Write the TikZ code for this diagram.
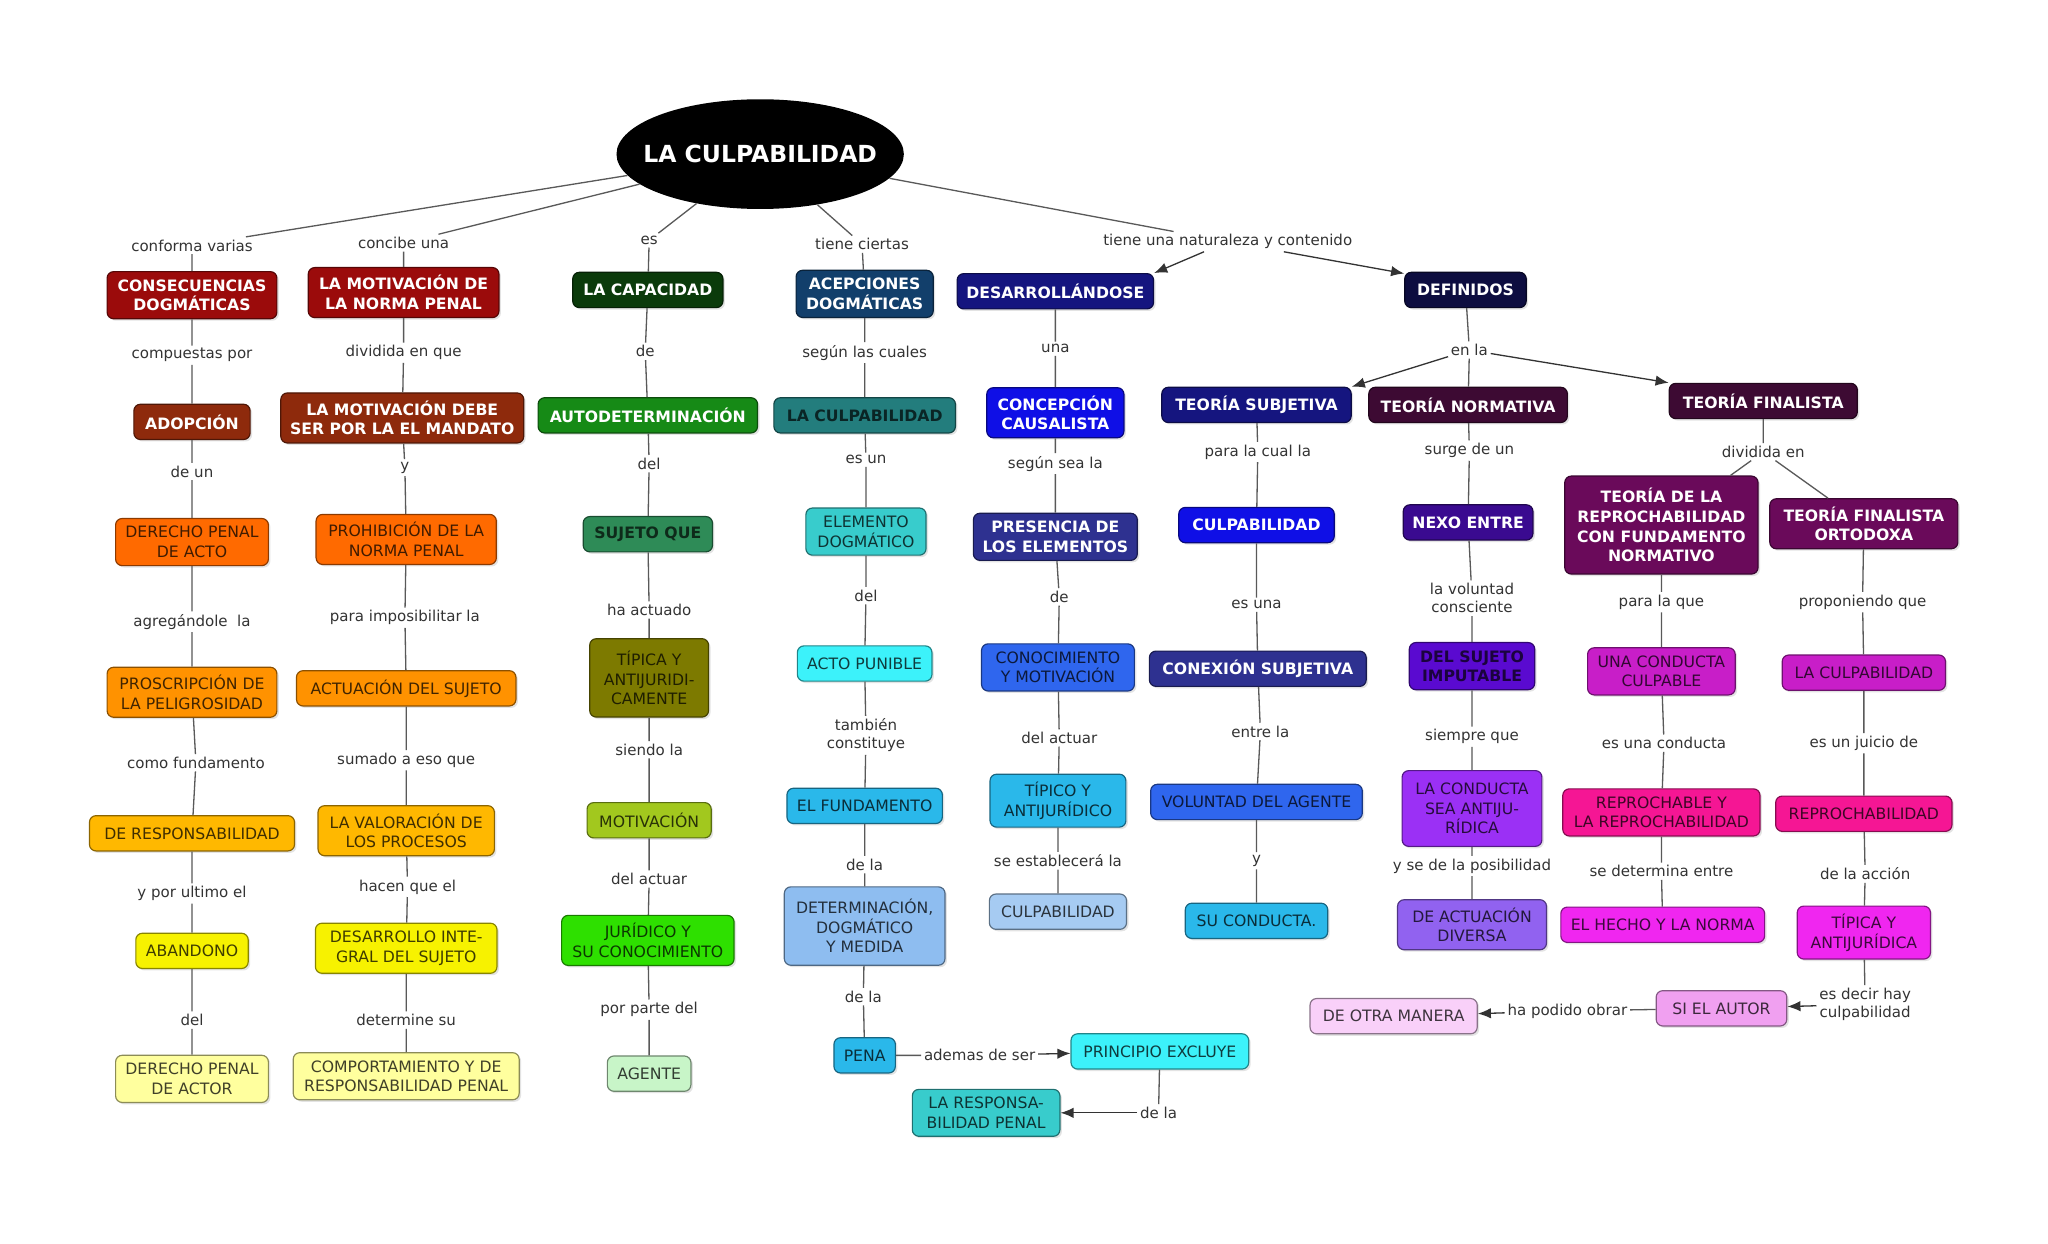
\documentclass[tikz,border=0pt]{standalone}
\usepackage{fontspec}
\setmainfont{DejaVu Sans}
\usetikzlibrary{shapes.geometric,shadows,arrows.meta}

\definecolor{rojoosc}{HTML}{9B0B0B}
\definecolor{marron}{HTML}{8E2A0C}
\definecolor{naranja}{HTML}{FF6A00}
\definecolor{naranjaclaro}{HTML}{FF9200}
\definecolor{ambar}{HTML}{FFB800}
\definecolor{amarillo}{HTML}{F7F200}
\definecolor{amarilloclaro}{HTML}{FFFF9E}
\definecolor{verdeosc}{HTML}{0B3B0B}
\definecolor{verde}{HTML}{168A16}
\definecolor{verdemar}{HTML}{2E8B57}
\definecolor{oliva}{HTML}{7D7A00}
\definecolor{verdeamarillo}{HTML}{A2C81E}
\definecolor{verdevivo}{HTML}{2EE000}
\definecolor{verdeclaro}{HTML}{C8F5C8}
\definecolor{azulpetroleo}{HTML}{123F6B}
\definecolor{turquesaosc}{HTML}{237D7D}
\definecolor{turquesa}{HTML}{38CCCC}
\definecolor{cian}{HTML}{3CF2FA}
\definecolor{celeste}{HTML}{2AB8EA}
\definecolor{azulclaro}{HTML}{8EBDF0}
\definecolor{marino}{HTML}{15157F}
\definecolor{azul}{HTML}{0F0FE6}
\definecolor{pizarra}{HTML}{2E3190}
\definecolor{azulreal}{HTML}{2F66EE}
\definecolor{azulpalido}{HTML}{A6CBF2}
\definecolor{noche}{HTML}{0D0D40}
\definecolor{ciruela}{HTML}{3D0A33}
\definecolor{anil}{HTML}{3A0A90}
\definecolor{morado}{HTML}{5A0AD0}
\definecolor{violeta}{HTML}{9B30F5}
\definecolor{lila}{HTML}{9162F0}
\definecolor{vino}{HTML}{6A0A5A}
\definecolor{fucsiaosc}{HTML}{C81EC8}
\definecolor{rosa}{HTML}{F51694}
\definecolor{fucsia}{HTML}{F026F0}
\definecolor{orquidea}{HTML}{F0A0F0}
\definecolor{rosapalido}{HTML}{F9D0F9}

\newcommand\rootfont{\fontsize{18}{22}\selectfont\bfseries}
\newcommand\cabfont{\fontsize{12}{15}\selectfont\bfseries}
\newcommand\hojafont{\fontsize{12}{15}\selectfont}
\newcommand\enlfont{\fontsize{11.5}{14}\selectfont}

\begin{document}
\begin{tikzpicture}[x=1pt, y=-1pt,
    concept/.style={rounded corners=5pt, draw=#1!55!black, fill=#1, line width=0.9pt,
        align=center, inner xsep=7pt, inner ysep=6pt, minimum height=27pt,
        drop shadow={opacity=0.22, shadow xshift=1.5pt, shadow yshift=-1.5pt}},
    cabeza/.style={concept=#1, text=white, font=\cabfont},
    cabosc/.style={concept=#1, text=#1!30!black, font=\cabfont},
    hoja/.style={concept=#1, text=#1!25!black, font=\hojafont},
    enlace/.style={font=\enlfont, text=black!80, inner sep=2pt, align=center},
    conn/.style={draw=black!65, line width=1pt},
    arr/.style={draw=black!80, line width=1pt, -{Latex[length=10pt,width=8pt]}}]

    \fill[white] (0,0) rectangle (1568,952);
    \useasboundingbox (0,0) rectangle (1568,952);

    % Draw nodes
    \node[ellipse, fill=black, text=white, font=\rootfont, minimum width=220, minimum height=84] (root) at (582,118) {\makebox[0pt]{LA CULPABILIDAD}};

    \node[cabeza=rojoosc, minimum width=130] (consec) at (147,226) {CONSECUENCIAS\\DOGMÁTICAS};
    \node[cabeza=marron, minimum width=89] (adopc) at (147,323) {ADOPCIÓN};
    \node[hoja=naranja, minimum width=117] (dpacto) at (147,415) {DERECHO PENAL\\DE ACTO};
    \node[hoja=naranjaclaro, minimum width=130] (proscr) at (147,530) {PROSCRIPCIÓN DE\\LA PELIGROSIDAD};
    \node[hoja=ambar, minimum width=157] (respons) at (147,638) {DE RESPONSABILIDAD};
    \node[hoja=amarillo, minimum width=86] (aband) at (147,728) {ABANDONO};
    \node[hoja=amarilloclaro, minimum width=117] (dpactor) at (147,826) {DERECHO PENAL\\DE ACTOR};

    \node[cabeza=rojoosc, minimum width=146] (motiv) at (309,224) {LA MOTIVACIÓN DE\\LA NORMA PENAL};
    \node[cabeza=marron, minimum width=186] (debe) at (308,320) {LA MOTIVACIÓN DEBE\\SER POR LA EL MANDATO};
    \node[hoja=naranja, minimum width=138] (prohib) at (311,413) {PROHIBICIÓN DE LA\\NORMA PENAL};
    \node[hoja=naranjaclaro, minimum width=168] (actua) at (311,527) {ACTUACIÓN DEL SUJETO};
    \node[hoja=ambar, minimum width=135] (valor) at (311,636) {LA VALORACIÓN DE\\LOS PROCESOS};
    \node[hoja=amarillo, minimum width=139] (desint) at (311,726) {DESARROLLO INTE-\\GRAL DEL SUJETO};
    \node[hoja=amarilloclaro, minimum width=173] (comport) at (311,824) {COMPORTAMIENTO Y DE\\RESPONSABILIDAD PENAL};

    \node[cabeza=verdeosc, minimum width=115] (capac) at (496,222) {LA CAPACIDAD};
    \node[cabeza=verde, minimum width=168] (autod) at (496,318) {AUTODETERMINACIÓN};
    \node[cabosc=verdemar, minimum width=99] (sujque) at (496,409) {SUJETO QUE};
    \node[hoja=oliva, minimum width=91, minimum height=60] (tipica) at (497,519) {TÍPICA Y\\ANTIJURIDI-\\CAMENTE};
    \node[hoja=verdeamarillo, minimum width=95] (motivac) at (497,628) {MOTIVACIÓN};
    \node[hoja=verdevivo, minimum width=132] (juridico) at (496,720) {JURÍDICO Y\\SU CONOCIMIENTO};
    \node[hoja=verdeclaro, minimum width=64] (agente) at (497,822) {AGENTE};

    \node[cabeza=azulpetroleo, minimum width=105] (acep) at (662,225) {ACEPCIONES\\DOGMÁTICAS};
    \node[cabosc=turquesaosc, minimum width=139] (laculp) at (662,318) {LA CULPABILIDAD};
    \node[hoja=turquesa, minimum width=92] (elem) at (663,407) {ELEMENTO\\DOGMÁTICO};
    \node[hoja=cian, minimum width=103] (acto) at (662,508) {ACTO PUNIBLE};
    \node[hoja=celeste, minimum width=119] (fund) at (662,617) {EL FUNDAMENTO};
    \node[hoja=azulclaro, minimum width=123, minimum height=60] (determ) at (662,709) {DETERMINACIÓN,\\DOGMÁTICO\\Y MEDIDA};
    \node[hoja=celeste, minimum width=47] (pena) at (662,808) {PENA};
    \node[hoja=cian, minimum width=136] (princ) at (888,805) {PRINCIPIO EXCLUYE};
    \node[hoja=turquesa, minimum width=113] (respen) at (755,852) {LA RESPONSA-\\BILIDAD PENAL};

    \node[cabeza=marino, minimum width=149] (desarr) at (808,223) {DESARROLLÁNDOSE};
    \node[cabeza=azul, minimum width=105] (concep) at (808,316) {CONCEPCIÓN\\CAUSALISTA};
    \node[cabeza=pizarra, minimum width=125] (presen) at (808,411) {PRESENCIA DE\\LOS ELEMENTOS};
    \node[hoja=azulreal, minimum width=117] (conoc) at (810,511) {CONOCIMIENTO\\Y MOTIVACIÓN};
    \node[hoja=celeste, minimum width=104] (tipico) at (810,613) {TÍPICO Y\\ANTIJURÍDICO};
    \node[hoja=azulpalido, minimum width=105] (culpuno) at (810,698) {CULPABILIDAD};

    \node[cabeza=marino, minimum width=145] (tsubj) at (962,310) {TEORÍA SUBJETIVA};
    \node[cabeza=azul, minimum width=119] (culpdos) at (962,402) {CULPABILIDAD};
    \node[cabeza=pizarra, minimum width=166] (conex) at (963,512) {CONEXIÓN SUBJETIVA};
    \node[hoja=azulreal, minimum width=162] (volunt) at (962,614) {VOLUNTAD DEL AGENTE};
    \node[hoja=celeste, minimum width=109] (sucond) at (962,705) {SU CONDUCTA.};

    \node[cabeza=noche, minimum width=93] (defin) at (1122,222) {DEFINIDOS};
    \node[cabeza=ciruela, minimum width=152] (tnorm) at (1124,310) {TEORÍA NORMATIVA};
    \node[cabeza=anil, minimum width=98] (nexo) at (1124,400) {NEXO ENTRE};
    \node[cabosc=morado, minimum width=96] (imput) at (1127,510) {DEL SUJETO\\IMPUTABLE};
    \node[hoja=violeta, minimum width=107, minimum height=58] (antiju) at (1127,619) {LA CONDUCTA\\SEA ANTIJU-\\RÍDICA};
    \node[hoja=lila, minimum width=114] (divers) at (1127,708) {DE ACTUACIÓN\\DIVERSA};

    \node[cabeza=ciruela, minimum width=144] (tfin) at (1350,307) {TEORÍA FINALISTA};
    \node[cabeza=vino, minimum width=148, minimum height=75] (trepro) at (1272,402) {TEORÍA DE LA\\REPROCHABILIDAD\\CON FUNDAMENTO\\NORMATIVO};
    \node[cabeza=vino, minimum width=144] (tortod) at (1427,401) {TEORÍA FINALISTA\\ORTODOXA};
    \node[hoja=fucsiaosc, minimum width=113] (conculp) at (1272,514) {UNA CONDUCTA\\CULPABLE};
    \node[hoja=rosa, minimum width=151] (reprob) at (1272,622) {REPROCHABLE Y\\LA REPROCHABILIDAD};
    \node[hoja=fucsia, minimum width=156] (hecho) at (1273,708) {EL HECHO Y LA NORMA};
    \node[hoja=fucsiaosc, minimum width=125] (laculpdos) at (1427,515) {LA CULPABILIDAD};
    \node[hoja=rosa, minimum width=135] (reprobil) at (1427,623) {REPROCHABILIDAD};
    \node[hoja=fucsia, minimum width=102] (tipicados) at (1427,714) {TÍPICA Y\\ANTIJURÍDICA};
    \node[hoja=orquidea, minimum width=100] (siautor) at (1318,772) {SI EL AUTOR};
    \node[hoja=rosapalido, minimum width=128] (otraman) at (1067,778) {DE OTRA MANERA};

    % Labels
    \node[enlace] (lconf) at (147,188) {conforma varias};
    \node[enlace] (lcomp) at (147,272) {compuestas por};
    \node[enlace] (ldeun) at (147,361) {de un};
    \node[enlace] (lagreg) at (147,476) {agregándole\ \ la};
    \node[enlace] (lcomo) at (150,584) {como fundamento};
    \node[enlace] (lypor) at (147,684) {y por ultimo el};
    \node[enlace] (ldeluno) at (147,781) {del};

    \node[enlace] (lconc) at (309,186) {concibe una};
    \node[enlace] (ldivq) at (309,270) {dividida en que};
    \node[enlace] (lyuno) at (310,358) {y};
    \node[enlace] (lpara) at (310,473) {para imposibilitar la};
    \node[enlace] (lsuma) at (311,582) {sumado a eso que};
    \node[enlace] (lhacen) at (312,679) {hacen que el};
    \node[enlace] (ldeterm) at (311,781) {determine su};

    \node[enlace] (les) at (497,184) {es};
    \node[enlace] (ldeuno) at (494,269) {de};
    \node[enlace] (ldeldos) at (497,355) {del};
    \node[enlace] (lha) at (497,467) {ha actuado};
    \node[enlace] (lsiendo) at (497,574) {siendo la};
    \node[enlace] (ldelactuno) at (497,673) {del actuar};
    \node[enlace] (lpor) at (497,773) {por parte del};

    \node[enlace] (ltiene) at (660,187) {tiene ciertas};
    \node[enlace] (lsegun) at (662,270) {según las cuales};
    \node[enlace] (lesun) at (663,352) {es un};
    \node[enlace] (ldeltres) at (663,456) {del};
    \node[enlace] (ltamb) at (663,563) {también\\constituye};
    \node[enlace] (ldelauno) at (662,662) {de la};
    \node[enlace] (ldelados) at (661,763) {de la};
    \node[enlace] (lademas) at (750,808) {ademas de ser};
    \node[enlace] (ldelatres) at (887,852) {de la};

    \node[enlace] (lnat) at (940,185) {tiene una naturaleza y contenido};
    \node[enlace] (luna) at (808,267) {una};
    \node[enlace] (lsegsea) at (808,355) {según sea la};
    \node[enlace] (ldedos) at (811,457) {de};
    \node[enlace] (ldelactdos) at (811,565) {del actuar};
    \node[enlace] (lseest) at (810,659) {se establecerá la};

    \node[enlace] (lparacual) at (963,346) {para la cual la};
    \node[enlace] (lesuna) at (962,463) {es una};
    \node[enlace] (lentre) at (965,560) {entre la};
    \node[enlace] (lydos) at (962,659) {y};

    \node[enlace] (lenla) at (1125,268) {en la};
    \node[enlace] (lsurge) at (1125,345) {surge de un};
    \node[enlace] (lvolunt) at (1127,458) {la voluntad\\consciente};
    \node[enlace] (lsiempre) at (1127,564) {siempre que};
    \node[enlace] (lysede) at (1127,663) {y se de la posibilidad};

    \node[enlace] (ldivid) at (1350,346) {dividida en};
    \node[enlace] (lparaque) at (1272,461) {para la que};
    \node[enlace] (lesunacond) at (1274,569) {es una conducta};
    \node[enlace] (lsedet) at (1272,667) {se determina entre};
    \node[enlace] (lpropon) at (1426,461) {proponiendo que};
    \node[enlace] (ljuicio) at (1427,569) {es un juicio de};
    \node[enlace] (ldelaacc) at (1428,669) {de la acción};
    \node[enlace] (lesdecir) at (1428,769) {es decir hay\\culpabilidad};
    \node[enlace] (lhapod) at (1200,774) {ha podido obrar};

    % Draw connections
    \draw[conn] (root) -- (lconf) -- (consec);
    \draw[conn] (root) -- (lconc) -- (motiv);
    \draw[conn] (root) -- (les) -- (capac);
    \draw[conn] (root) -- (ltiene) -- (acep);
    \draw[conn] (root) -- (lnat);
    \draw[arr] (lnat) -- (desarr.north east);
    \draw[arr] (lnat) -- (defin.165);

    \draw[conn] (consec) -- (lcomp) -- (adopc) -- (ldeun) -- (dpacto) -- (lagreg) -- (proscr) -- (lcomo) -- (respons) -- (lypor) -- (aband) -- (ldeluno) -- (dpactor);
    \draw[conn] (motiv) -- (ldivq) -- (debe) -- (lyuno) -- (prohib) -- (lpara) -- (actua) -- (lsuma) -- (valor) -- (lhacen) -- (desint) -- (ldeterm) -- (comport);
    \draw[conn] (capac) -- (ldeuno) -- (autod) -- (ldeldos) -- (sujque) -- (lha) -- (tipica) -- (lsiendo) -- (motivac) -- (ldelactuno) -- (juridico) -- (lpor) -- (agente);
    \draw[conn] (acep) -- (lsegun) -- (laculp) -- (lesun) -- (elem) -- (ldeltres) -- (acto) -- (ltamb) -- (fund) -- (ldelauno) -- (determ) -- (ldelados) -- (pena) -- (lademas);
    \draw[arr] (lademas) -- (princ);
    \draw[conn] (princ) -- (ldelatres);
    \draw[arr] (ldelatres) -- (respen);

    \draw[conn] (desarr) -- (luna) -- (concep) -- (lsegsea) -- (presen) -- (ldedos) -- (conoc) -- (ldelactdos) -- (tipico) -- (lseest) -- (culpuno);
    \draw[conn] (tsubj) -- (lparacual) -- (culpdos) -- (lesuna) -- (conex) -- (lentre) -- (volunt) -- (lydos) -- (sucond);

    \draw[conn] (defin) -- (lenla) -- (tnorm);
    \draw[arr] (lenla) -- (tsubj.north east);
    \draw[arr] (lenla) -- (tfin.north west);
    \draw[conn] (tnorm) -- (lsurge) -- (nexo) -- (lvolunt) -- (imput) -- (lsiempre) -- (antiju) -- (lysede) -- (divers);

    \draw[conn] (tfin) -- (ldivid) -- (trepro);
    \draw[conn] (ldivid) -- (tortod);
    \draw[conn] (trepro) -- (lparaque) -- (conculp) -- (lesunacond) -- (reprob) -- (lsedet) -- (hecho);
    \draw[conn] (tortod) -- (lpropon) -- (laculpdos) -- (ljuicio) -- (reprobil) -- (ldelaacc) -- (tipicados) -- (lesdecir);
    \draw[arr] (lesdecir) -- (siautor);
    \draw[conn] (siautor) -- (lhapod);
    \draw[arr] (lhapod) -- (otraman);
\end{tikzpicture}
\end{document}
